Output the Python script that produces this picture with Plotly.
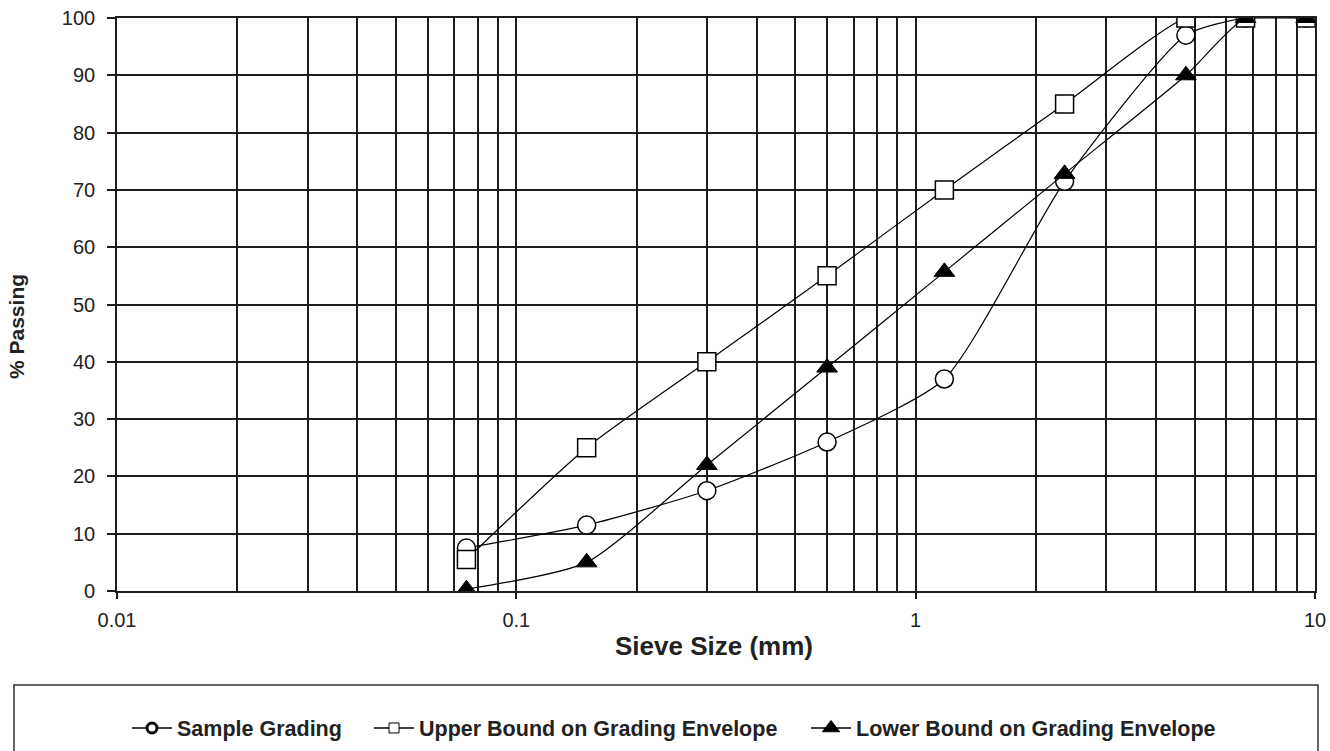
import plotly.graph_objects as go

# Sieve sizes (mm)
sieve_sizes = [0.075, 0.15, 0.3, 0.6, 1.18, 2.36, 4.75, 6.7, 9.5]
sample_grading = [7.5, 11.5, 17.5, 26, 37, 71.5, 97, 100, 100]
upper_bound = [5.5, 25, 40, 55, 70, 85, 100, 100, 100]
lower_bound = [0.3, 5, 22, 39, 55.7, 72.8, 90, 100, 100]

series_names = ["Sample Grading", "Upper Bound on Grading Envelope", "Lower Bound on Grading Envelope"]

x_major = [0.01, 0.1, 1, 10]
x_major_labels = ["0.01", "0.1", "1", "10"]
x_minor = [m * d for d in (0.01, 0.1, 1) for m in range(2, 10)]
y_ticks = list(range(0, 101, 10))

FONT = "Liberation Sans, Arial, sans-serif"
GRID = "#1e1e1e"

L, R, T, B = 117, 15, 18, 160
W, H = 1330, 751
PW, PH = W - L - R, H - T - B


def px_x(px):
    return (px - L) / PW


def px_y(py):
    return (H - B - py) / PH


SMOOTH = 0.6
line_style = dict(color="black", width=1.2, shape="spline", smoothing=SMOOTH)

styles = [
    dict(symbol="circle", size=18, color="white", line=dict(color="black", width=1.5)),
    dict(symbol="square", size=18, color="white", line=dict(color="black", width=1.5)),
    dict(symbol="triangle-up", size=18, color="black", line=dict(color="black", width=1)),
]
legend_markers = [
    dict(symbol="circle", size=10, color="white", line=dict(color="black", width=3)),
    dict(symbol="square", size=10, color="white", line=dict(color="black", width=1)),
    dict(symbol="triangle-up", size=15, color="black", line=dict(color="black", width=1)),
]
legend_ids = ["legend", "legend2", "legend3"]

fig = go.Figure()
for ys, name, st in zip([sample_grading, upper_bound, lower_bound], series_names, styles):
    fig.add_trace(go.Scatter(
        x=sieve_sizes, y=ys, name=name, mode="lines+markers",
        line=line_style, marker=st, showlegend=False,
    ))

for name, mk, lid in zip(series_names, legend_markers, legend_ids):
    fig.add_trace(go.Scatter(
        x=[None], y=[None], name="<b>" + name + "</b>", mode="lines+markers",
        line=dict(color="black", width=1.3), marker=mk, legend=lid, showlegend=True,
    ))

legend_common = dict(
    orientation="h", yanchor="middle", xanchor="left", y=px_y(728),
    font=dict(family=FONT, size=21.5, color="#222"), bgcolor="rgba(0,0,0,0)",
    itemwidth=40, borderwidth=0,
)

fig.update_layout(
    width=W, height=H,
    margin=dict(l=L, r=R, t=T, b=B, autoexpand=False),
    paper_bgcolor="white", plot_bgcolor="white",
    font=dict(family=FONT, size=20, color="#222"),
    showlegend=True,
    legend=dict(x=px_x(127), **legend_common),
    legend2=dict(x=px_x(369), **legend_common),
    legend3=dict(x=px_x(806), **legend_common),
    xaxis=dict(
        type="log", range=[-2, 1],
        tickvals=x_major, ticktext=x_major_labels,
        showgrid=True, gridcolor=GRID, gridwidth=1.6,
        ticks="outside", ticklen=6, tickcolor=GRID, tickwidth=1.6,
        showline=True, linecolor=GRID, linewidth=1.6, mirror=True,
        zeroline=False, ticklabelstandoff=4, automargin=False,
        minor=dict(tickvals=x_minor, showgrid=True, gridcolor=GRID, gridwidth=1.6, ticks=""),
        tickfont=dict(family=FONT, size=20, color="#222"),
    ),
    yaxis=dict(
        range=[0, 100], tickvals=y_ticks,
        showgrid=True, gridcolor=GRID, gridwidth=1.6,
        ticks="outside", ticklen=8, tickcolor=GRID, tickwidth=1.6,
        showline=True, linecolor=GRID, linewidth=1.6, mirror=True,
        zeroline=False, ticklabelstandoff=8, automargin=False,
        tickfont=dict(family=FONT, size=20, color="#222"),
    ),
    annotations=[
        dict(text="<b>Sieve Size (mm)</b>", xref="paper", yref="paper",
             x=px_x(714), y=px_y(646), xanchor="center", yanchor="middle",
             showarrow=False, font=dict(family=FONT, size=26, color="#222")),
        dict(text="<b>% Passing</b>", xref="paper", yref="paper",
             x=px_x(16), y=px_y(327), xanchor="center", yanchor="middle", textangle=-90,
             showarrow=False, font=dict(family=FONT, size=21, color="#222")),
    ],
    shapes=[
        dict(type="rect", xref="paper", yref="paper",
             x0=px_x(14), x1=px_x(1318), y0=px_y(685), y1=px_y(770),
             line=dict(color="#333", width=1.5), fillcolor="rgba(0,0,0,0)"),
    ],
)

fig.write_html("out.html")
